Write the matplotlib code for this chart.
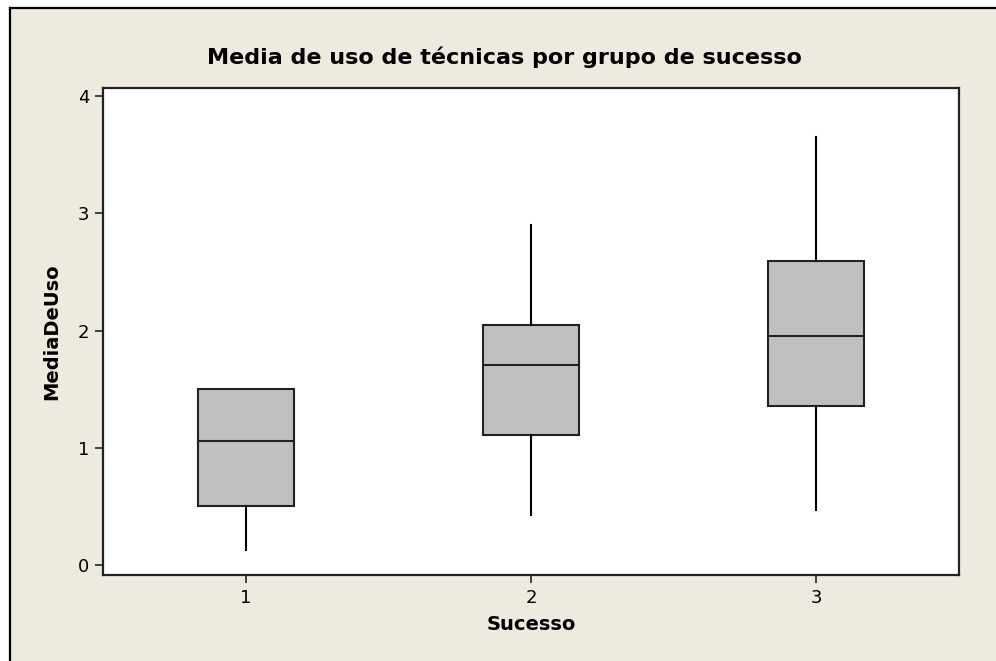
import matplotlib
matplotlib.use("Agg")
import matplotlib.pyplot as plt
from matplotlib.patches import Rectangle

groups = [1, 2, 3]
whisker_low = [0.13, 0.43, 0.47]
q1 = [0.50, 1.11, 1.36]
median = [1.06, 1.71, 1.95]
q3 = [1.50, 2.05, 2.59]
whisker_high = [1.50, 2.90, 3.65]
y_ticks = [0, 1, 2, 3, 4]

bg = "#EEEAE0"
W, H = 996, 661
fig = plt.figure(figsize=(W / 100, H / 100), dpi=100, facecolor="white")

# beige panel framed by dark lines on its left and top edges
x0, y0 = 9.5 / W, 1 - 7.5 / H
fig.add_artist(Rectangle((x0, 0), 1 - x0, y0, transform=fig.transFigure,
                         facecolor=bg, edgecolor="none", zorder=0))
fig.add_artist(plt.Line2D([x0, x0], [0, y0], color="black", lw=1.6, transform=fig.transFigure))
fig.add_artist(plt.Line2D([x0, 1], [y0, y0], color="black", lw=1.6, transform=fig.transFigure))

ax = fig.add_axes([103 / W, 1 - 575 / H, (959 - 103) / W, (575 - 88) / H])
ax.set_facecolor("white")

stats = []
for g, lo, a, m, b, hi in zip(groups, whisker_low, q1, median, q3, whisker_high):
    stats.append(dict(label=str(g), whislo=lo, q1=a, med=m, q3=b, whishi=hi, fliers=[]))

ax.bxp(stats, positions=groups, widths=0.336, patch_artist=True, showcaps=False,
       boxprops=dict(facecolor="#C0C0C0", edgecolor="#222222", linewidth=1.5),
       medianprops=dict(color="#222222", linewidth=1.5),
       whiskerprops=dict(color="black", linewidth=1.5))

ax.set_xlim(0.5, 3.5)
ax.set_ylim(-0.085, 4.068)
ax.set_yticks(y_ticks)
ax.set_xticks(groups)
ax.set_xticklabels([str(g) for g in groups])

for s in ax.spines.values():
    s.set_linewidth(1.6)
    s.set_color("#222222")
ax.tick_params(direction="out", length=6, width=1.2, labelsize=13, color="#222222", pad=4)

ax.set_xlabel("Sucesso", fontsize=14, fontweight="bold", labelpad=6)
ax.set_ylabel("MediaDeUso", fontsize=14, fontweight="bold", labelpad=12)
fig.text(0.506, 1 - 57 / H, "Media de uso de técnicas por grupo de sucesso",
         ha="center", va="center", fontsize=16, fontweight="bold")

fig.savefig("out.png", dpi=100, facecolor="white")
